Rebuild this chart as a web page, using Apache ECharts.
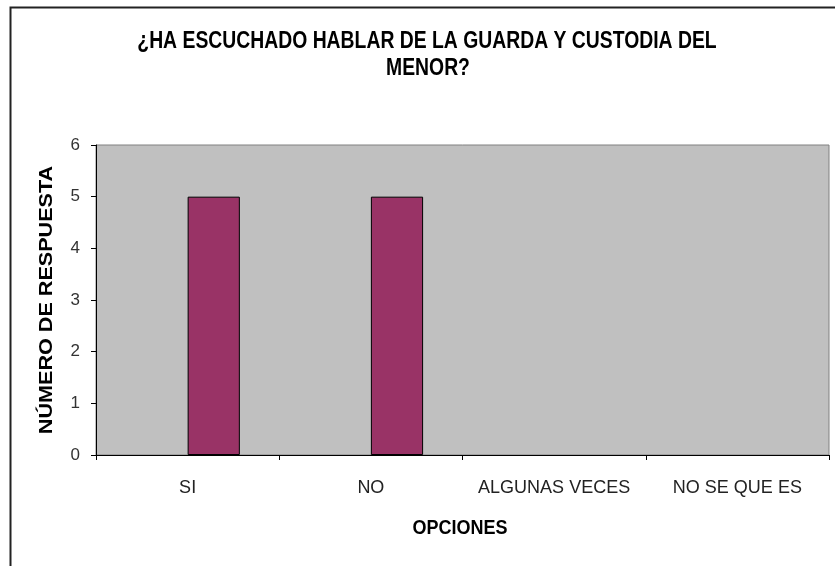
<!DOCTYPE html>
<html>
<head>
<meta charset="utf-8">
<script src="https://cdn.jsdelivr.net/npm/echarts@6/dist/echarts.min.js"></script>
<style>
html,body{margin:0;padding:0;background:#fff;}
#c{width:835px;height:566px;}
</style>
</head>
<body>
<div id="c"></div>
<script>
const titleLine1 = '¿HA ESCUCHADO HABLAR DE LA GUARDA Y CUSTODIA DEL';
const titleLine2 = 'MENOR?';
const categories = ['SI', 'NO', 'ALGUNAS VECES', 'NO SE QUE ES'];
const emptySeries = [null, null, null, null];
const respuestas = [5, 5, 0, 0];
const yTicks = [0, 1, 2, 3, 4, 5, 6];
const yName = 'NÚMERO DE RESPUESTA';
const xName = 'OPCIONES';

const sans = '"Liberation Sans", Arial, sans-serif';
const chart = echarts.init(document.getElementById('c'), null, {renderer: 'canvas'});
chart.setOption({
  animation: false,
  backgroundColor: '#ffffff',
  graphic: [{
    type: 'rect', z: -10, silent: true,
    shape: {x: 10.5, y: 7.5, width: 900, height: 700},
    style: {fill: 'none', stroke: '#222', lineWidth: 2}
  }, {
    type: 'text', x: 427, y: 42, scaleX: 0.88, scaleY: 1.05, silent: true,
    style: {text: titleLine1, align: 'center', verticalAlign: 'middle',
            fontFamily: sans, fontWeight: 'bold', fontSize: 22, fill: '#000'}
  }, {
    type: 'text', x: 428, y: 69, scaleX: 0.88, scaleY: 1.05, silent: true,
    style: {text: titleLine2, align: 'center', verticalAlign: 'middle',
            fontFamily: sans, fontWeight: 'bold', fontSize: 22, fill: '#000'}
  }, {
    type: 'text', x: 460, y: 528, scaleX: 0.9, silent: true,
    style: {text: xName, align: 'center', verticalAlign: 'middle',
            fontFamily: sans, fontWeight: 'bold', fontSize: 20, fill: '#000'}
  }, {
    type: 'text', x: 47, y: 300, rotation: Math.PI / 2, scaleX: 1.2, silent: true,
    style: {text: yName, align: 'center', verticalAlign: 'middle',
            fontFamily: sans, fontWeight: 'bold', fontSize: 18, fill: '#000'}
  }],
  grid: {left: 96, right: 6, top: 145, bottom: 111, show: true,
         backgroundColor: '#C0C0C0', borderColor: '#808080', borderWidth: 1},
  xAxis: {
    type: 'category', data: categories, z: 5,
    axisLine: {lineStyle: {color: '#000', width: 1}},
    axisTick: {show: true, length: 5, alignWithLabel: false, lineStyle: {color: '#000'}},
    axisLabel: {interval: 0, margin: 24, fontFamily: sans, fontSize: 18, color: '#222'}
  },
  yAxis: {
    type: 'value', min: yTicks[0], max: yTicks[yTicks.length - 1], interval: 1,
    axisLine: {show: true, lineStyle: {color: '#000', width: 1}},
    axisTick: {show: true, length: 5, lineStyle: {color: '#000'}},
    axisLabel: {margin: 16, fontFamily: sans, fontSize: 17, color: '#333'},
    splitLine: {show: false}
  },
  series: [{
    type: 'bar', name: 'Serie 1', data: emptySeries,
    barGap: '0%', barCategoryGap: '43%',
    itemStyle: {color: '#9999FF', borderColor: '#000', borderWidth: 1}
  }, {
    type: 'bar', name: 'Respuestas',
    // zero-height bars are invisible in the reference, so they are not drawn
    data: respuestas.map(v => (v === 0 ? null : v)),
    barGap: '0%', barCategoryGap: '43%',
    itemStyle: {color: '#993366', borderColor: '#000', borderWidth: 1}
  }]
});
</script>
</body>
</html>
